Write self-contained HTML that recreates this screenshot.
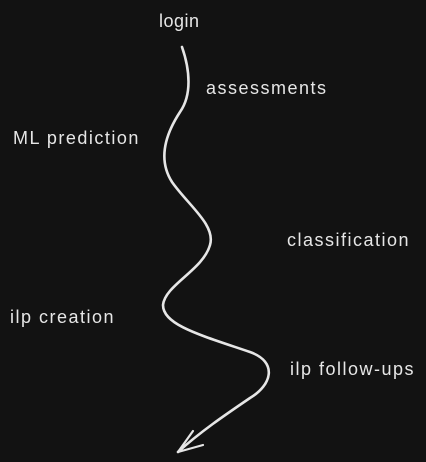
<!DOCTYPE html>
<html><head><meta charset="utf-8"><style>
html,body{margin:0;padding:0;background:#121212;}
body{width:426px;height:462px;position:relative;overflow:hidden;font-family:"Liberation Sans",sans-serif;color:#e6e6e6;font-size:18px;letter-spacing:1.5px;}
.t{position:absolute;white-space:nowrap;line-height:20px;}
</style></head><body>
<svg width="426" height="462" style="position:absolute;left:0;top:0">
<path d="M182 47 C190 70,192 95,180 112 C165 135,158 160,172 182 C188 205,216 225,210 245 C203 270,165 285,163 305 C163 325,200 335,250 352 C278 362,272 385,250 398 C225 415,200 432,178 452" fill="none" stroke="#e6e6e6" stroke-width="2.6" stroke-linecap="round"/>
<path d="M193 431 L178 452 L203 445" fill="none" stroke="#e6e6e6" stroke-width="2.2" stroke-linecap="round" stroke-linejoin="round"/>
</svg>
<div class="t" style="left:159px;top:11px;letter-spacing:0.5px">login</div>
<div class="t" style="left:206px;top:78px">assessments</div>
<div class="t" style="left:13px;top:128px">ML prediction</div>
<div class="t" style="left:287px;top:230px">classification</div>
<div class="t" style="left:10px;top:307px">ilp creation</div>
<div class="t" style="left:290px;top:359px">ilp follow-ups</div>
</body></html>
